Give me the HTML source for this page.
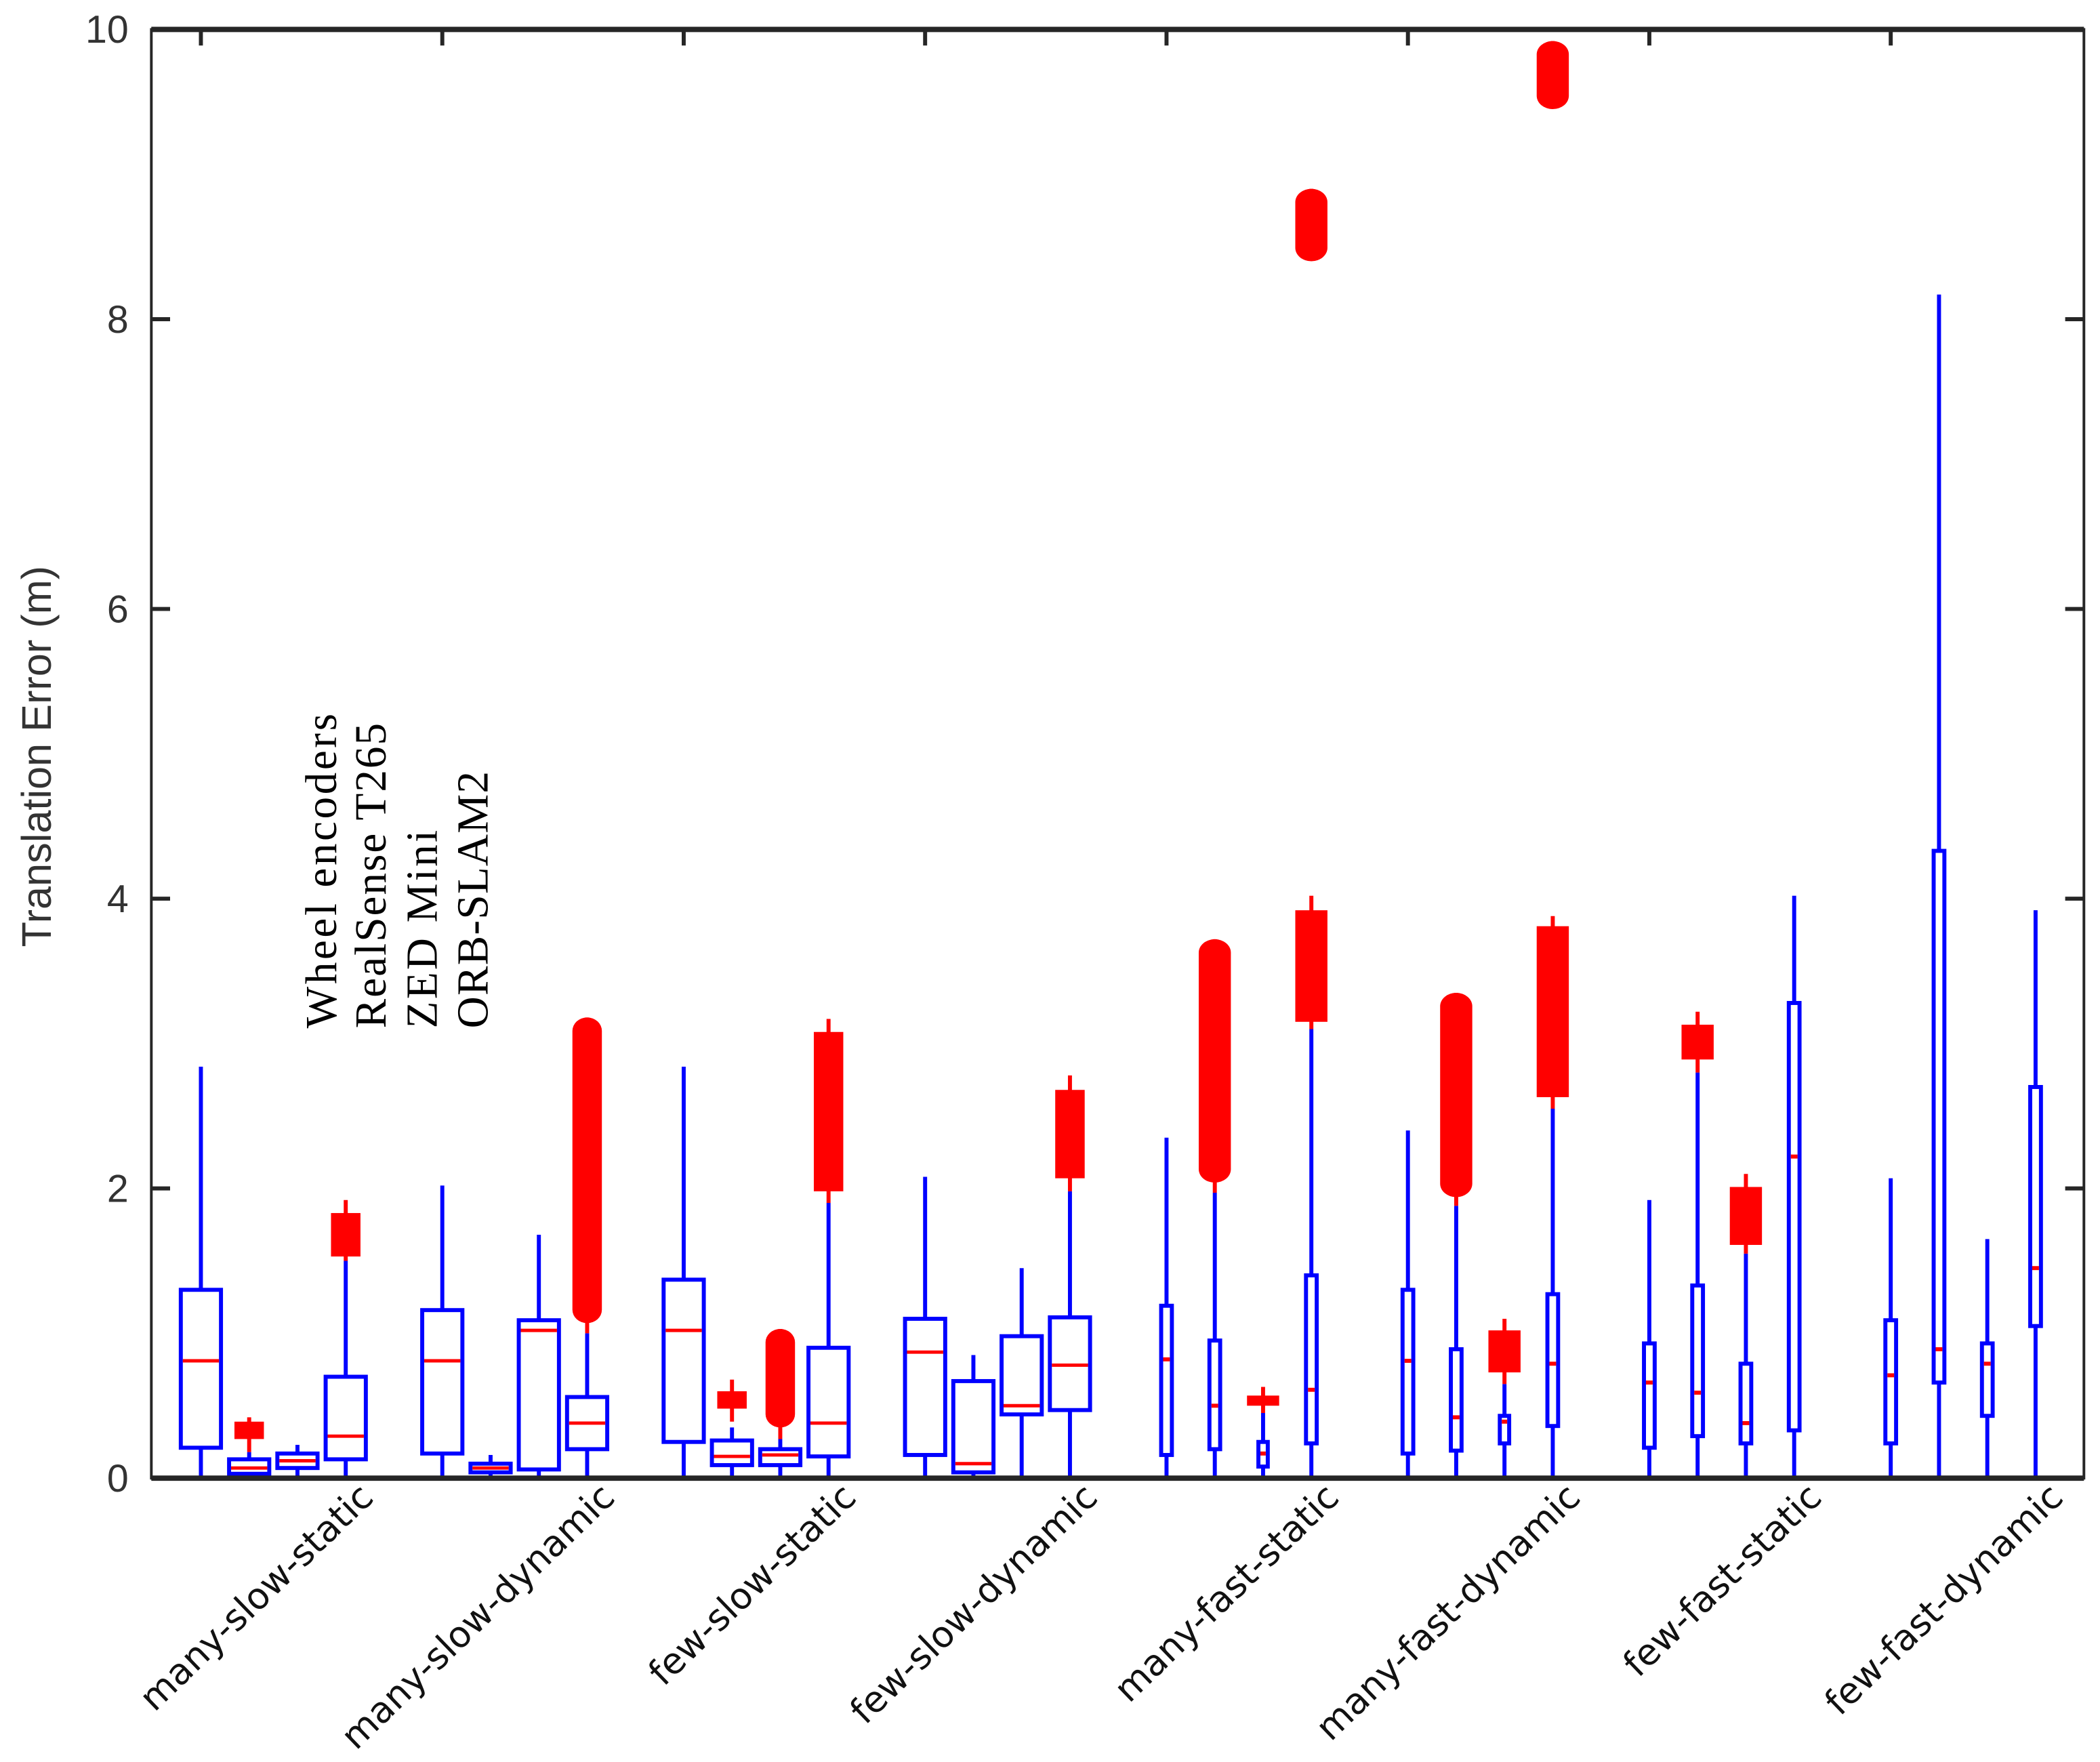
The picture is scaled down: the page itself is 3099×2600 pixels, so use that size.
<!DOCTYPE html>
<html><head><meta charset="utf-8"><style>html,body{margin:0;padding:0;background:#fff}svg{display:block}</style></head>
<body>
<svg id="chart" width="3099" height="2600" viewBox="0 0 1568 1316" preserveAspectRatio="none" xmlns="http://www.w3.org/2000/svg">
<rect x="0" y="0" width="1568" height="1316" fill="#fff"/>
<g id="marks"></g>
<g id="axes"></g>
<text transform="translate(38,565) rotate(-90)" text-anchor="middle" font-family="Liberation Sans, sans-serif" font-size="31" fill="#333">Translation Error (m)</text>
<g font-family="Liberation Serif, serif" font-size="33" fill="#000">
<text transform="translate(251,768) rotate(-90)" textLength="235">Wheel encoders</text>
<text transform="translate(288,768) rotate(-90)" textLength="228">RealSense T265</text>
<text transform="translate(326,768) rotate(-90)" textLength="148">ZED Mini</text>
<text transform="translate(364,768) rotate(-90)" textLength="192">ORB-SLAM2</text>
</g>
</svg>
<script>
const categories = ["many-slow-static","many-slow-dynamic","few-slow-static","few-slow-dynamic","many-fast-static","many-fast-dynamic","few-fast-static","few-fast-dynamic"];
const yTicks = [0,2,4,6,8,10];
const q1 =  [0.21,0.03,0.07,0.13, 0.17,0.04,0.06,0.20, 0.25,0.09,0.09,0.15, 0.16,0.04,0.44,0.47, 0.16,0.20,0.08,0.24, 0.17,0.19,0.24,0.36, 0.21,0.29,0.24,0.33, 0.24,0.66,0.43,1.05];
const med = [0.81,0.07,0.12,0.29, 0.81,0.07,1.02,0.38, 1.02,0.15,0.16,0.38, 0.87,0.10,0.50,0.78, 0.82,0.50,0.17,0.61, 0.81,0.42,0.39,0.79, 0.66,0.59,0.38,2.22, 0.71,0.89,0.79,1.45];
const q3 =  [1.30,0.13,0.17,0.70, 1.16,0.10,1.09,0.56, 1.37,0.26,0.20,0.90, 1.10,0.67,0.98,1.11, 1.19,0.95,0.25,1.40, 1.30,0.89,0.43,1.27, 0.93,1.33,0.79,3.28, 1.09,4.33,0.93,2.70];
const whiskHi = [2.84,0.18,0.23,1.50, 2.02,0.16,1.68,1.00, 2.84,0.35,0.27,1.90, 2.08,0.85,1.45,1.98, 2.35,1.97,0.45,3.10, 2.40,1.88,0.65,2.55, 1.92,2.80,1.55,4.02, 2.07,8.17,1.65,3.92];
// outlier clusters
const outBox =   [1,3,7,9,10,11,15,17,18,19,19,21,22,23,23,25,26];
const outLo =    [0.27,1.53,1.07,0.48,0.35,1.98,2.07,2.04,0.50,3.15,8.40,1.94,0.73,2.63,9.45,2.89,1.61];
const outHi =    [0.39,1.83,3.18,0.60,1.03,3.08,2.68,3.72,0.57,3.92,8.90,3.35,1.02,3.81,9.92,3.13,2.01];
const outTop =   [0.42,1.92,3.18,0.68,1.03,3.17,2.78,3.72,0.63,4.02,8.90,3.35,1.10,3.88,9.92,3.22,2.10];
const outRound = [0,0,1,0,1,0,0,1,0,0,1,1,0,0,1,0,0];

const NS="http://www.w3.org/2000/svg";
const L=113,R=1556,T=22,B=1104;
function yS(v){return B-(v/10)*(B-22);}
function xS(i){const g=Math.floor(i/4),k=i%4;return 150+(g*5+k)*36.05;}
function mk(tag,attrs,parent){const e=document.createElementNS(NS,tag);for(const k in attrs)e.setAttribute(k,attrs[k]);parent.appendChild(e);return e;}
const marks=document.getElementById('marks'), axes=document.getElementById('axes');

for(let i=0;i<q1.length;i++){
  const x=xS(i), g=Math.floor(i/4);
  const hw = g<4 ? 15 : (i===18||i===22 ? 3.5 : 4);
  const grp=mk('g',{},marks);
  
  
  let w=mk('line',{x1:x,x2:x,y1:yS(0),y2:yS(q1[i]),stroke:'#0000ff','stroke-width':3},grp);
  
  
  w=mk('line',{x1:x,x2:x,y1:yS(q3[i]),y2:yS(whiskHi[i]),stroke:'#0000ff','stroke-width':3},grp);
  
  
  const b=mk('rect',{x:x-hw,y:yS(q3[i]),width:2*hw,height:Math.max(1,yS(q1[i])-yS(q3[i])),fill:'none',stroke:'#0000ff','stroke-width':3},grp);
  
  
  const m=mk('line',{x1:x-hw+1.5,x2:x+hw-1.5,y1:yS(med[i]),y2:yS(med[i]),stroke:'#ff0000','stroke-width':g<4?2.5:3},grp);
  
  
}
for(let j=0;j<outBox.length;j++){
  const i=outBox[j], x=xS(i), g=Math.floor(i/4);
  const hw = g<4 ? 11 : 12;
  const grp=mk('g',{},marks);
  
  
  const near = outLo[j]-whiskHi[i] < 0.4;
  const lo = near ? Math.max(outLo[j]-0.09, whiskHi[i]) : outLo[j]+0.05;
  const ln=mk('line',{x1:x,x2:x,y1:yS(lo),y2:yS(outTop[j]),stroke:'#ff0000','stroke-width':3},grp);
  
  
  const r=mk('rect',{x:x-hw,y:yS(outHi[j]),width:2*hw,height:yS(outLo[j])-yS(outHi[j]),fill:'#ff0000',rx:outRound[j]?hw:0,ry:outRound[j]?10:0},grp);
  
  
}
let f=mk('rect',{x:L,y:T,width:R-L,height:B-T,fill:'none',stroke:'#262626','stroke-width':2},axes);


f=mk('line',{x1:L,x2:R,y1:B,y2:B,stroke:'#262626','stroke-width':4},axes);


f=mk('line',{x1:L,x2:R,y1:T,y2:T,stroke:'#262626','stroke-width':4},axes);


for(const v of yTicks){
  const y=yS(v);
  mk('line',{x1:L,x2:L+14,y1:y,y2:y,stroke:'#262626','stroke-width':3},axes);
  mk('line',{x1:R-14,x2:R,y1:y,y2:y,stroke:'#262626','stroke-width':3},axes);
  const t=mk('text',{x:96,y:y+10,'text-anchor':'end','font-family':'Liberation Sans, sans-serif','font-size':29,fill:'#333'},axes);
  
  
  t.textContent=v;
}
categories.forEach((c,g)=>{
  const x=xS(g*4);
  mk('line',{x1:x,x2:x,y1:T,y2:T+12,stroke:'#262626','stroke-width':3},axes);
  const t=mk('text',{transform:'translate('+(xS(g*4+3)+22)+',1120) rotate(-44)','text-anchor':'end','font-family':'DejaVu Sans, sans-serif','font-size':27,fill:'#111'},axes);
  
  
  t.textContent=c;
});
</script>
</body></html>
